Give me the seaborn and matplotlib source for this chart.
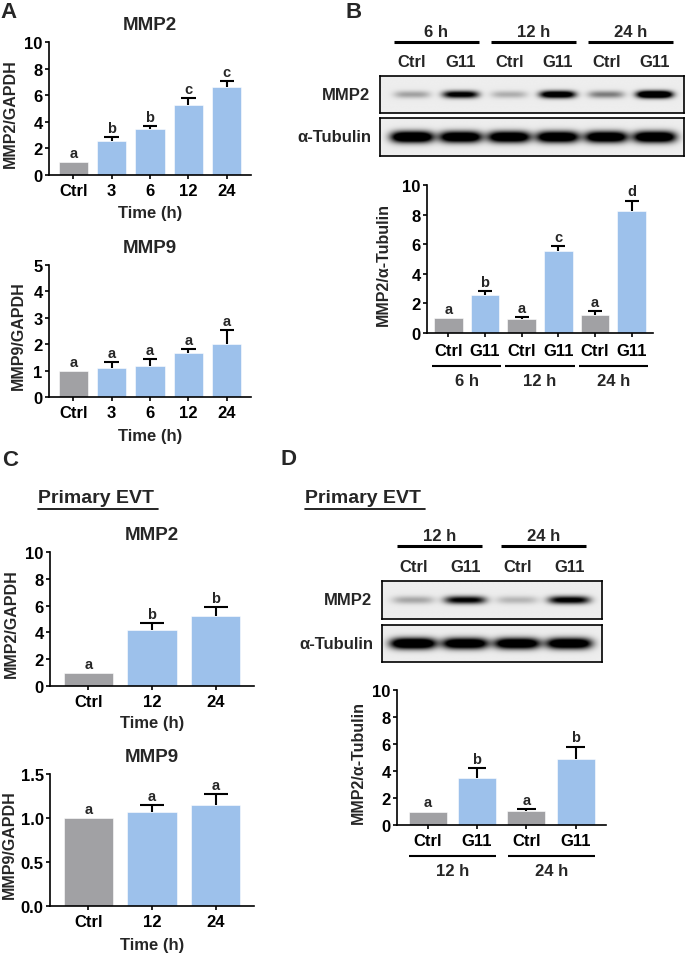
import numpy as np
import pandas as pd
import seaborn as sns
import matplotlib.pyplot as plt
from matplotlib.lines import Line2D

sns.set_style("ticks")
plt.rcParams.update({
    "font.family": ["Liberation Sans", "DejaVu Sans"],
    "font.weight": "bold",
    "axes.labelweight": "bold",
    "axes.titleweight": "bold",
    "axes.linewidth": 1.2,
    "xtick.major.width": 1.2,
    "ytick.major.width": 1.2,
    "xtick.major.size": 3,
    "ytick.major.size": 3,
    "xtick.labelsize": 12,
    "ytick.labelsize": 12,
    "xtick.color": "black",
    "ytick.color": "black",
    "axes.edgecolor": "black",
})

# ---- data ----
# A: time course (h)
a_cond = ["Ctrl", "3", "6", "12", "24"]
a_mmp2 = [1.0, 2.57, 3.47, 5.27, 6.64]
a_mmp2_sem = [0.0, 0.26, 0.23, 0.52, 0.40]
a_mmp2_sig = ["a", "b", "b", "c", "c"]
a_mmp9 = [1.0, 1.08, 1.17, 1.67, 2.01]
a_mmp9_sem = [0.0, 0.23, 0.27, 0.15, 0.53]
a_mmp9_sig = ["a", "a", "a", "a", "a"]

# B: western blot densitometry
b_lane = ["Ctrl", "G11", "Ctrl", "G11", "Ctrl", "G11"]
b_group = ["6 h", "12 h", "24 h"]
b_val = [1.0, 2.55, 0.97, 5.52, 1.20, 8.27]
b_sem = [0.0, 0.26, 0.12, 0.38, 0.27, 0.68]
b_sig = ["a", "b", "a", "c", "a", "d"]
b_band_mmp2 = [0.3, 1.1, 0.25, 1.3, 0.45, 1.6]
b_band_tub = [1.5, 1.4, 1.4, 1.4, 1.4, 1.45]

# C: primary EVT
c_cond = ["Ctrl", "12", "24"]
c_mmp2 = [1.0, 4.17, 5.2]
c_mmp2_sem = [0.0, 0.53, 0.67]
c_mmp2_sig = ["a", "b", "b"]
c_mmp9 = [1.0, 1.066, 1.148]
c_mmp9_sem = [0.0, 0.082, 0.125]
c_mmp9_sig = ["a", "a", "a"]

# D: primary EVT blot
d_lane = ["Ctrl", "G11", "Ctrl", "G11"]
d_group = ["12 h", "24 h"]
d_val = [1.0, 3.51, 1.04, 4.87]
d_sem = [0.0, 0.73, 0.12, 0.94]
d_sig = ["a", "b", "a", "b"]
d_band_mmp2 = [0.28, 1.0, 0.22, 1.05]
d_band_tub = [1.5, 1.4, 1.4, 1.4]

GRAY = "#a0a0a5"
BLUE = "#90c0f8"

W, H = 685, 954
fig = plt.figure(figsize=(W / 100, H / 100), dpi=100)


def box(l, t, r, b):
    return fig.add_axes([l / W, 1 - b / H, (r - l) / W, (b - t) / H])


def ftext(x, y, s, **kw):
    fig.text(x / W, 1 - y / H, s, **kw)


def bars(ax, labels, vals, sem, sig, ymax, yticks, xlim, width, ylabel,
         ylab_x, title=None, xlabel=None, xlab_y=None, fmt=None, pad=3):
    keys = [f"{i}_{l}" for i, l in enumerate(labels)]
    colors = [GRAY if l == "Ctrl" else BLUE for l in labels]
    df = pd.DataFrame({"cond": keys, "val": vals})
    sns.barplot(data=df, x="cond", y="val", hue="cond",
                palette=dict(zip(keys, colors)), width=width, errorbar=None,
                legend=False, ax=ax, edgecolor="white", linewidth=0.4)
    x = np.arange(len(vals))
    v = np.array(vals)
    s = np.array(sem)
    top = v + s
    m = s > 0
    ax.vlines(x[m], v[m], top[m], color="black", lw=1.5, zorder=3)
    ax.hlines(top[m], x[m] - 0.19, x[m] + 0.19, color="black", lw=1.5, zorder=3)
    for xi, ti, lt in zip(x, top, sig):
        ax.annotate(lt, (xi, ti), xytext=(0, 1.5), textcoords="offset points",
                    ha="center", va="bottom", fontsize=10.5, fontweight="bold")
    ax.set_ylim(0, ymax)
    ax.set_yticks(yticks)
    if fmt:
        ax.set_yticklabels([fmt.format(t) for t in yticks])
    ax.set_xlim(*xlim)
    ax.set_xticks(x)
    ax.set_xticklabels(labels)
    ax.tick_params(axis="x", pad=pad)
    ax.tick_params(axis="y", pad=1.5)
    sns.despine(ax=ax)
    ax.set_ylabel(ylabel, fontsize=11.5, va="center")
    ax.yaxis.set_label_coords(ylab_x, 0.47)
    if xlabel:
        ax.set_xlabel(xlabel, fontsize=12, va="center")
        ax.xaxis.set_label_coords(0.5, xlab_y)
    else:
        ax.set_xlabel("")
    if title:
        ax.text(0.5, 1.13, title, transform=ax.transAxes, ha="center",
                va="center", fontsize=13.5, fontweight="bold")


def blot(ax, bands, xlim, half_w, half_t):
    xs = np.linspace(xlim[0], xlim[1], 600)
    ys = np.linspace(-1, 1, 90)
    img = np.full((len(ys), len(xs)), 0.07)
    for i, amp in enumerate(bands):
        px = np.exp(-np.abs((xs - i) / half_w) ** 4)
        py = np.exp(-(ys / half_t) ** 2)
        img += amp * np.outer(py, px)
    ax.imshow(np.clip(img, 0, 1), cmap="gray_r", vmin=0, vmax=1,
              extent=[xlim[0], xlim[1], -1, 1], aspect="auto",
              interpolation="bilinear")
    ax.set_xticks([])
    ax.set_yticks([])
    for sp in ax.spines.values():
        sp.set_visible(True)
        sp.set_linewidth(1.2)


def blot_header(ax, lanes, groups, half, lw):
    tr = ax.get_xaxis_transform()
    for i, l in enumerate(lanes):
        ax.text(i, 1.38, l, transform=tr, ha="center", va="center", fontsize=12)
    for g, name in enumerate(groups):
        c = 2 * g + 0.5
        ax.plot([c - half, c + half], [1.92, 1.92], transform=tr, color="black",
                lw=lw, clip_on=False, solid_capstyle="butt")
        ax.text(c, 2.2, name, transform=tr, ha="center", va="center", fontsize=12)


def group_under(ax, groups, half, yline, ytext):
    tr = ax.get_xaxis_transform()
    for g, name in enumerate(groups):
        c = 2 * g + 0.5
        ax.plot([c - half, c + half], [yline, yline], transform=tr, color="black",
                lw=1.5, clip_on=False, solid_capstyle="butt")
        ax.text(c, ytext, name, transform=tr, ha="center", va="center", fontsize=12)


# ---- panel A ----
ax = box(49, 43, 251, 176)
bars(ax, a_cond, a_mmp2, a_mmp2_sem, a_mmp2_sig, 10, range(0, 11, 2),
     (-0.63, 4.63), 0.76, "MMP2/GAPDH", -0.19, title="MMP2",
     xlabel="Time (h)", xlab_y=-0.28)
ax = box(49, 266, 251, 398)
bars(ax, a_cond, a_mmp9, a_mmp9_sem, a_mmp9_sig, 5, range(0, 6),
     (-0.63, 4.63), 0.76, "MMP9/GAPDH", -0.15, title="MMP9",
     xlabel="Time (h)", xlab_y=-0.29)

# ---- panel B ----
bx = (-0.66, 5.6)
ax1 = box(380, 77, 684, 114)
blot(ax1, b_band_mmp2, bx, 0.37, 0.2)
blot_header(ax1, b_lane, b_group, 0.87, 2.2)
ax1.text(-0.033, 0.5, "MMP2", transform=ax1.transAxes, ha="right", va="center", fontsize=12)
ax2 = box(380, 119, 684, 157)
blot(ax2, b_band_tub, bx, 0.44, 0.3)
ax2.text(-0.027, 0.5, "α-Tubulin", transform=ax2.transAxes, ha="right", va="center", fontsize=12)

ax = box(427, 186, 653, 334)
bars(ax, b_lane, b_val, b_sem, b_sig, 10, range(0, 11, 2), (-0.58, 5.58),
     0.78, "MMP2/α-Tubulin", -0.195, pad=4.5)
group_under(ax, b_group, 0.95, -0.223, -0.324)

# ---- panel C ----
ax = box(50, 553, 254, 687)
bars(ax, c_cond, c_mmp2, c_mmp2_sem, c_mmp2_sig, 10, range(0, 11, 2),
     (-0.6, 2.6), 0.77, "MMP2/GAPDH", -0.19, title="MMP2",
     xlabel="Time (h)", xlab_y=-0.27)
ax = box(50, 775, 254, 907)
bars(ax, c_cond, c_mmp9, c_mmp9_sem, c_mmp9_sig, 1.5, [0, 0.5, 1.0, 1.5],
     (-0.6, 2.6), 0.77, "MMP9/GAPDH", -0.2, title="MMP9",
     xlabel="Time (h)", xlab_y=-0.29, fmt="{:.1f}")

# ---- panel D ----
dx = (-0.6, 3.63)
ax1 = box(382, 582, 602, 620)
blot(ax1, d_band_mmp2, dx, 0.4, 0.21)
blot_header(ax1, d_lane, d_group, 0.82, 2.2)
ax1.text(-0.045, 0.5, "MMP2", transform=ax1.transAxes, ha="right", va="center", fontsize=12)
ax2 = box(382, 626, 602, 663)
blot(ax2, d_band_tub, dx, 0.44, 0.3)
ax2.text(-0.04, 0.5, "α-Tubulin", transform=ax2.transAxes, ha="right", va="center", fontsize=12)

ax = box(397, 691, 606, 826)
bars(ax, d_lane, d_val, d_sem, d_sig, 10, range(0, 11, 2), (-0.62, 3.61),
     0.77, "MMP2/α-Tubulin", -0.187, pad=3)
group_under(ax, d_group, 0.88, -0.23, -0.34)

# ---- panel letters and headings ----
for lt, x, y in [("A", 0, 12), ("B", 345, 13), ("C", 2, 461), ("D", 281, 460)]:
    ftext(x, y, lt, fontsize=16, fontweight="bold", ha="left", va="center")

for x0, x1 in [(38, 158), (305, 425)]:
    ftext(x0, 499, "Primary EVT", fontsize=14, fontweight="bold", ha="left", va="center")
    fig.add_artist(Line2D([x0 / W, x1 / W], [1 - 509.5 / H, 1 - 509.5 / H],
                          color="black", lw=1.2, transform=fig.transFigure))

fig.savefig("out.png", dpi=100)
